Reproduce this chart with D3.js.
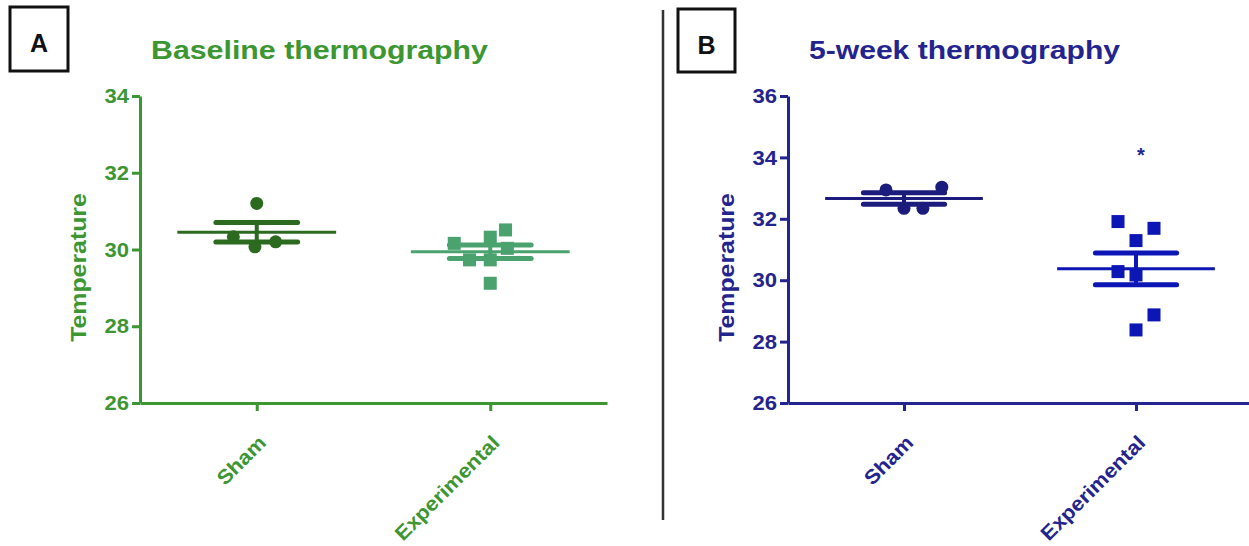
<!DOCTYPE html>
<html>
<head>
<meta charset="utf-8">
<script src="https://cdn.jsdelivr.net/npm/d3@7"></script>
<style>
  body { margin: 0; background: #fff; }
  svg { display: block; font-family: "Liberation Sans", Arial, sans-serif; font-weight: bold; }
</style>
</head>
<body>
<svg id="chart" width="1249" height="546"></svg>
<script>
// groups on the x axis
var categories = ["Sham", "Experimental"];

// panel A - baseline
var shamBaseline = [31.2, 30.33, 30.07, 30.2];
var shamBaselineSpread = [0, -1.3, -0.1, 1.05];
var expBaseline = [30.51, 30.32, 30.16, 30.03, 29.73, 29.73, 29.12];
var expBaselineSpread = [0.85, 0, -2, 0.95, -1.15, 0, 0];
var ticksBaseline = [26, 28, 30, 32, 34];

// panel B - 5 weeks
var shamWeek5 = [32.94, 33.03, 32.34, 32.34];
var shamWeek5Spread = [-1, 2.1, 0, 1.05];
var expWeek5 = [31.91, 31.69, 31.29, 30.28, 30.17, 28.87, 28.38];
var expWeek5Spread = [-1, 1, 0, -1, 0, 1, 0];
var ticksWeek5 = [26, 28, 30, 32, 34, 36];
var starWeek5 = { group: "Experimental", at: 34.15, text: "*" };

var svg = d3.select("#chart");

// stretch text wider (the original font runs wide)
function widen(sel, k) {
  sel.each(function() {
    var len = this.getComputedTextLength();
    d3.select(this).attr("textLength", len * k).attr("lengthAdjust", "spacingAndGlyphs");
  });
}

var panels = [
  {
    letter: "A", box: [10, 7, 58, 64],
    title: "Baseline thermography", titleX: 151, titleLen: 337,
    color: "#3c9632",
    left: 140, right: 607, top: 96, bottom: 403,
    domain: [26, 34], ticks: ticksBaseline,
    ylabelX: 86,
    groups: [
      { name: "Sham", values: shamBaseline, spread: shamBaselineSpread, shape: "circle", color: "#2b6a1f" },
      { name: "Experimental", values: expBaseline, spread: expBaselineSpread, shape: "square", color: "#4aa26e" }
    ]
  },
  {
    letter: "B", box: [678, 9, 57, 63],
    title: "5-week thermography", titleX: 809, titleLen: 311,
    color: "#24248e",
    left: 788, right: 1252, top: 96, bottom: 403,
    domain: [26, 36], ticks: ticksWeek5,
    ylabelX: 734,
    star: starWeek5,
    groups: [
      { name: "Sham", values: shamWeek5, spread: shamWeek5Spread, shape: "circle", color: "#1c1c7c" },
      { name: "Experimental", values: expWeek5, spread: expWeek5Spread, shape: "square", color: "#0c16b4" }
    ]
  }
];

// divider between the panels
svg.append("line")
  .attr("x1", 663).attr("x2", 663)
  .attr("y1", 10).attr("y2", 520)
  .attr("stroke", "#333").attr("stroke-width", 2.5);

panels.forEach(function(p) {
  var x = d3.scalePoint().domain(categories).range([p.left, p.right]).padding(0.5);
  var y = d3.scaleLinear().domain(p.domain).range([p.bottom, p.top]);
  var step = x.step();
  var spreadX = d3.scaleLinear().domain([0, 1]).range([0, 18]);

  // panel letter box
  svg.append("rect")
    .attr("x", p.box[0]).attr("y", p.box[1])
    .attr("width", p.box[2]).attr("height", p.box[3])
    .attr("fill", "none").attr("stroke", "#111").attr("stroke-width", 3);
  svg.append("text")
    .attr("x", p.box[0] + p.box[2] / 2).attr("y", p.box[1] + 45)
    .attr("text-anchor", "middle")
    .attr("font-size", 25).attr("fill", "#111")
    .text(p.letter);

  svg.append("text")
    .attr("x", p.titleX).attr("y", 59)
    .attr("font-size", 26).attr("fill", p.color)
    .attr("textLength", p.titleLen).attr("lengthAdjust", "spacingAndGlyphs")
    .text(p.title);

  // y axis
  var gy = svg.append("g")
    .attr("transform", "translate(" + p.left + ",0)")
    .call(d3.axisLeft(y).tickValues(p.ticks).tickSize(8).tickSizeOuter(0).tickPadding(3));
  gy.select(".domain").attr("stroke", p.color).attr("stroke-width", 3);
  gy.selectAll(".tick line").attr("stroke", p.color).attr("stroke-width", 3);
  gy.selectAll(".tick text")
    .attr("fill", p.color).attr("font-size", 21)
    .attr("font-family", "Liberation Sans, Arial, sans-serif").attr("font-weight", "bold");
  widen(gy.selectAll(".tick text"), 1.05);

  // x axis
  var gx = svg.append("g")
    .attr("transform", "translate(0," + p.bottom + ")")
    .call(d3.axisBottom(x).tickSize(8).tickSizeOuter(0));
  gx.select(".domain").attr("stroke", p.color).attr("stroke-width", 3);
  gx.selectAll(".tick line").attr("stroke", p.color).attr("stroke-width", 3);
  gx.selectAll(".tick text")
    .attr("fill", p.color).attr("font-size", 20)
    .attr("font-family", "Liberation Sans, Arial, sans-serif").attr("font-weight", "bold")
    .attr("text-anchor", "end")
    .attr("y", 0).attr("dy", 0)
    .attr("transform", "translate(10,41) rotate(-45)");
  widen(gx.selectAll(".tick text"), 1.1);

  var yl = svg.append("text")
    .attr("transform", "translate(" + p.ylabelX + "," + ((p.top + p.bottom) / 2 + 18) + ") rotate(-90)")
    .attr("text-anchor", "middle")
    .attr("font-size", 22).attr("fill", p.color)
    .text("Temperature");
  widen(yl, 1.13);

  p.groups.forEach(function(g) {
    var cx = x(g.name);
    var mean = d3.mean(g.values);
    var sem = d3.deviation(g.values) / Math.sqrt(g.values.length);
    var pts = g.values.map(function(v, i) { return { v: v, s: g.spread[i] }; });

    var gg = svg.append("g");
    if (g.shape === "circle") {
      gg.selectAll("circle").data(pts).enter().append("circle")
        .attr("cx", function(d) { return cx + spreadX(d.s); })
        .attr("cy", function(d) { return y(d.v); })
        .attr("r", 6.5)
        .attr("fill", g.color);
    } else {
      gg.selectAll("rect").data(pts).enter().append("rect")
        .attr("x", function(d) { return cx + spreadX(d.s) - 6.5; })
        .attr("y", function(d) { return y(d.v) - 6.5; })
        .attr("width", 13).attr("height", 13)
        .attr("fill", g.color);
    }

    // mean line
    gg.append("line")
      .attr("x1", cx - step * 0.34).attr("x2", cx + step * 0.34)
      .attr("y1", y(mean)).attr("y2", y(mean))
      .attr("stroke", g.color).attr("stroke-width", 3);
    // sem bars
    [mean - sem, mean + sem].forEach(function(v) {
      gg.append("line")
        .attr("x1", cx - step * 0.175).attr("x2", cx + step * 0.175)
        .attr("y1", y(v)).attr("y2", y(v))
        .attr("stroke", g.color).attr("stroke-width", 5)
        .attr("stroke-linecap", "round");
    });
    gg.append("line")
      .attr("x1", cx).attr("x2", cx)
      .attr("y1", y(mean - sem)).attr("y2", y(mean + sem))
      .attr("stroke", g.color).attr("stroke-width", 4);
  });

  if (p.star) {
    svg.append("text")
      .attr("x", x(p.star.group) + 5).attr("y", y(p.star.at) + 9)
      .attr("text-anchor", "middle")
      .attr("font-size", 20).attr("fill", p.color)
      .text(p.star.text);
  }
});
</script>
</body>
</html>
